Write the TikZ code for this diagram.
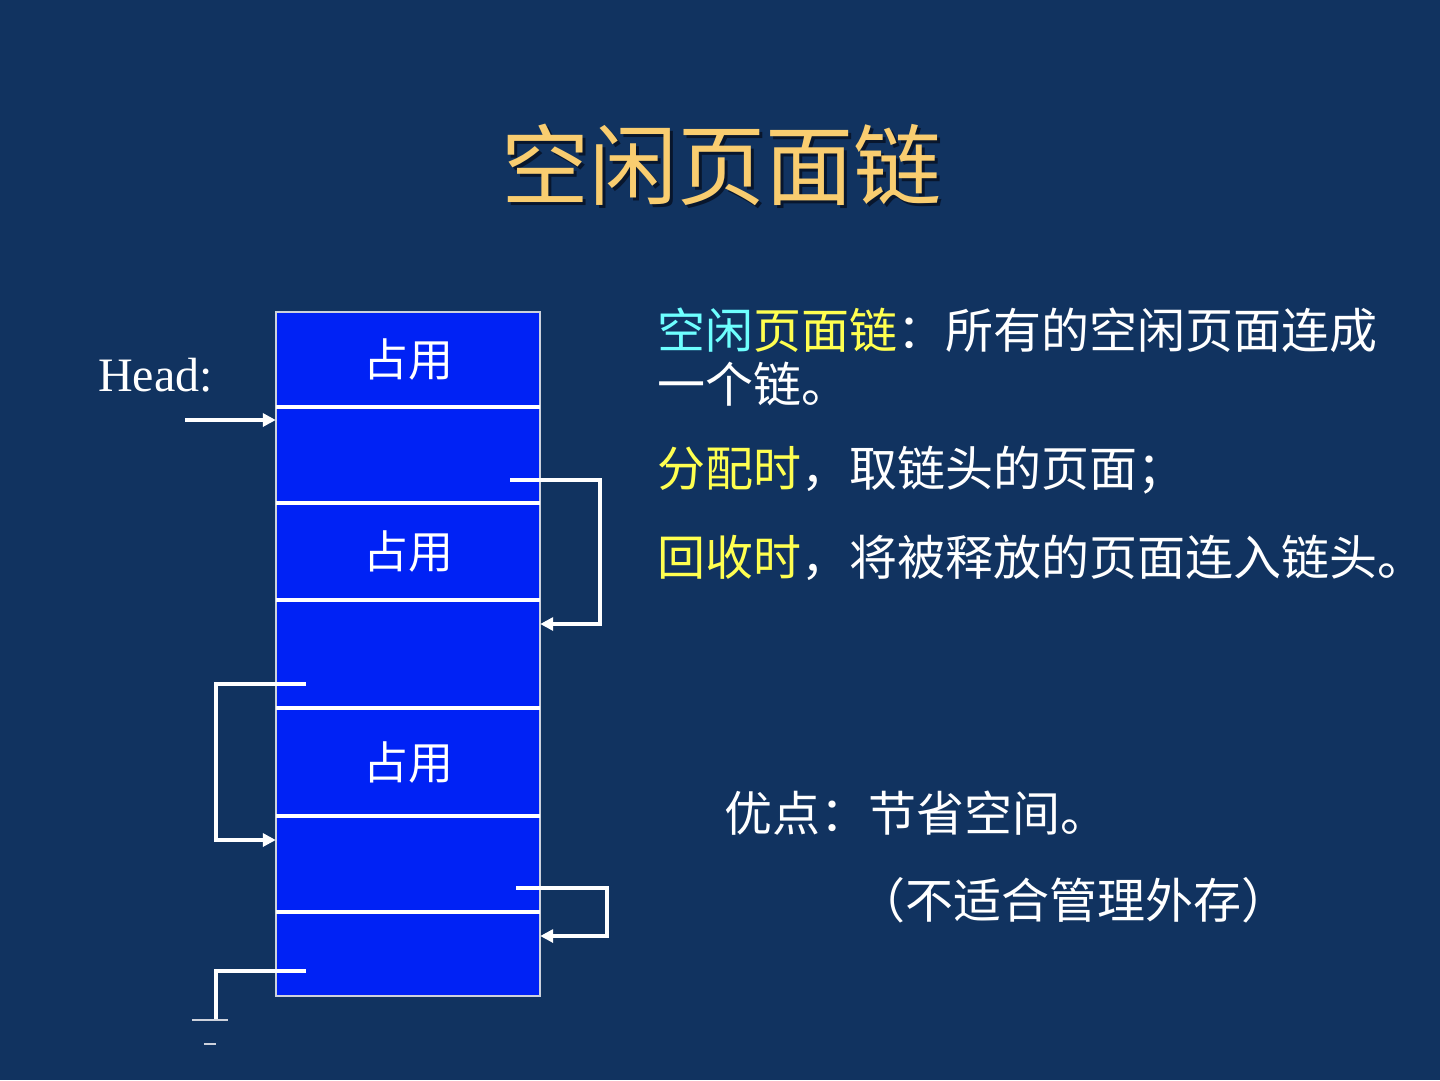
\documentclass[tikz,border=0pt]{standalone}
\usepackage{fontspec}
\setmainfont{Noto Sans CJK SC}
\newfontfamily\headfont{Liberation Serif}
\usetikzlibrary{arrows.meta}
\definecolor{bgnavy}{RGB}{17,51,96}
\definecolor{pageblue}{RGB}{0,34,245}
\definecolor{titlegold}{RGB}{249,205,112}
\definecolor{titleshade}{RGB}{8,22,45}
\definecolor{hlcyan}{RGB}{110,255,255}
\definecolor{hlyellow}{RGB}{255,255,80}
\definecolor{rimgrey}{RGB}{205,210,220}
\newcommand{\shadowed}[1]{\makebox[0pt][l]{\hspace{3pt}\raisebox{-3pt}{\color{titleshade}#1}}#1}
\tikzset{
  page/.style={fill=pageblue, inner sep=0pt, minimum width=264pt, text=white, font=\fontsize{45}{45}\selectfont},
  sep/.style={white, line width=4.5pt},
  link/.style={white, line width=4pt, -{Triangle[length=13pt,width=13pt]}},
  txt/.style={anchor=west, inner sep=0pt, text=white, font=\fontsize{48}{56}\selectfont},
}
\begin{document}
\begin{tikzpicture}[x=1pt, y=-1pt]
        \fill[bgnavy] (0,0) rectangle (1440,1080);
        \useasboundingbox (0,0) rectangle (1440,1080);
        % title with its shadow
        \node[text=titlegold, font=\fontsize{88}{88}\selectfont] (title) at (721,166) {\shadowed{空闲页面链}};
        % the pages
        \foreach \n/\c/\h/\lbl in {1/359.5/95/占用, 2/455/96/, 3/551.5/97/占用, 4/654/108/, 5/762/108/占用, 6/864/96/, 7/954/84/}
            \node[page, minimum height=\h pt] (pg\n) at (408,\c) {\lbl};
        \draw[rimgrey, line width=1.5pt] (pg1.north west) rectangle (pg7.south east);
        \foreach \n in {1,...,6}
            \draw[sep] (pg\n.south west) -- (pg\n.south east);
        \node[anchor=west, inner sep=0pt, text=white, font=\headfont\fontsize{48}{48}\selectfont] (head) at (98,375) {Head:};
        % free chain
        \coordinate (h0) at (185,420);
        \draw[link] (h0) -- (h0 -| pg2.west);
        \draw[link] ([shift={(-30pt,-25pt)}]pg2.east) -- ++(90,0) |- ([yshift=30pt]pg4.east);
        \draw[link] ([shift={(30pt,-30pt)}]pg4.west) -- ++(-90,0) |- ([yshift=24pt]pg6.west);
        \draw[link] ([shift={(-24pt,-24pt)}]pg6.east) -- ++(91,0) |- ([yshift=18pt]pg7.east);
        \draw[white, line width=4pt] ([shift={(30pt,-17pt)}]pg7.west) -- ++(-90,0) -- ++(0,49) coordinate (gnd);
        \draw[rimgrey, line width=2pt] ([xshift=-24pt]gnd) -- ([xshift=12pt]gnd);
        \draw[rimgrey, line width=2pt] ([shift={(-12pt,-24pt)}]gnd) -- ([yshift=-24pt]gnd);
        % notes
        \node[txt] (def) at (657,330) {{\color{hlcyan}空闲}{\color{hlyellow}页面链}：所有的空闲页面连成};
        \node[txt] (def2) at (657,384) {一个链。};
        \node[txt] (alloc) at (657,470) {{\color{hlyellow}分配时}，取链头的页面；};
        \node[txt] (free) at (657,558) {{\color{hlyellow}回收时}，将被释放的页面连入链头。};
        \node[txt] (pro) at (724,813) {优点：节省空间。};
        \node[txt] (con) at (857,900) {（不适合管理外存）};
\end{tikzpicture}
\end{document}
